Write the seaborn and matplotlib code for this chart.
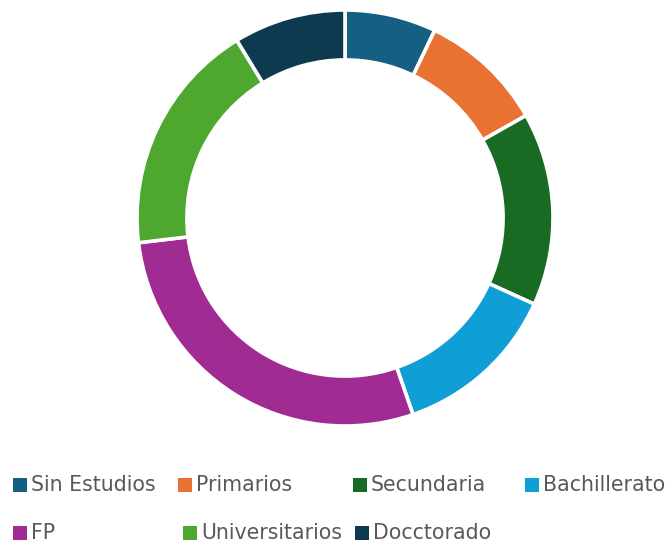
import matplotlib.pyplot as plt
import seaborn as sns
from matplotlib.patches import Rectangle

# data (share of each education level)
labels = ["Sin Estudios", "Primarios", "Secundaria", "Bachillerato",
          "FP", "Universitarios", "Docctorado"]
values = [7.1, 9.7, 15.0, 12.9, 28.4, 18.2, 8.7]
colors = ["#156082", "#E97132", "#196B24", "#0F9ED5",
          "#A02B93", "#4EA72E", "#0D3A4E"]

sns.set_theme(style="white")
plt.rcParams['font.family'] = ['DejaVu Sans']

W, H = 668, 544
fig = plt.figure(figsize=(W / 100, H / 100), dpi=100)

# ring: center (345, 218) px, outer radius 208 px
cx, cy, r = 345, 218, 208
ax = fig.add_axes([(cx - r) / W, (H - cy - r) / H, 2 * r / W, 2 * r / H])
ax.pie(values, colors=sns.color_palette(colors), startangle=90, counterclock=False,
       radius=1, wedgeprops=dict(width=0.24, edgecolor="white", linewidth=2.6))
ax.set_xlim(-1, 1)
ax.set_ylim(-1, 1)
ax.axis("off")

# legend laid out like the original (two uneven rows)
legend_x = [13, 178, 353, 525, 13, 183, 355]
legend_y = [485, 485, 485, 485, 533, 533, 533]
box = 14
for lab, col, x, y in zip(labels, colors, legend_x, legend_y):
    fig.add_artist(Rectangle((x / W, (H - y - box / 2) / H), box / W, box / H,
                             transform=fig.transFigure, color=col, lw=0))
    fig.text((x + box + 4) / W, (H - y) / H, lab, fontsize=14.8,
             color="#595959", va="center", ha="left")

fig.savefig("out.png", dpi=100)
